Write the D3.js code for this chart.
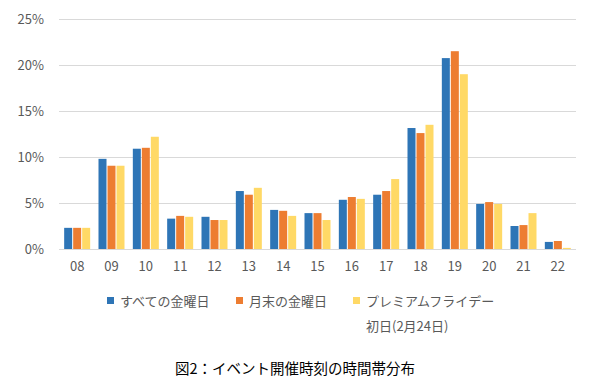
<!DOCTYPE html>
<html>
<head>
<meta charset="utf-8">
<script src="https://cdn.jsdelivr.net/npm/d3@7"></script>
<style>
  html, body { margin: 0; padding: 0; background: #fff; }
  svg { display: block; font-family: "Noto Sans CJK JP", "Noto Sans", sans-serif; }
</style>
</head>
<body>
<svg id="chart" width="591" height="382"></svg>
<script>
const categories = ["08","09","10","11","12","13","14","15","16","17","18","19","20","21","22"];
const seriesNames = ["すべての金曜日", "月末の金曜日", "プレミアムフライデー"];
const allFridays   = [2.3, 9.8, 10.9, 3.3, 3.5, 6.3, 4.25, 3.9, 5.35, 5.9, 13.15, 20.75, 4.9, 2.5, 0.77];
const monthEndFri  = [2.3, 9.05, 11.0, 3.6, 3.15, 5.9, 4.15, 3.9, 5.65, 6.3, 12.6, 21.5, 5.1, 2.6, 0.87];
const premiumFri   = [2.3, 9.05, 12.2, 3.5, 3.15, 6.65, 3.6, 3.15, 5.45, 7.6, 13.5, 19.0, 4.9, 3.9, 0.12];
const yTicks = [0, 5, 10, 15, 20, 25];
const colors = ["#2E75B6", "#ED7D31", "#FFD966"];
const legendSecondLine = "初日(2月24日)";
const title = "図2：イベント開催時刻の時間帯分布";

const seriesValues = [allFridays, monthEndFri, premiumFri];

const svg = d3.select("#chart");
const plot = { left: 60, right: 575, top: 19, bottom: 249 };

const x0 = d3.scaleBand().domain(categories).range([plot.left, plot.right]);
const x1 = d3.scaleBand().domain(d3.range(seriesNames.length)).range([0, 27]);
const y = d3.scaleLinear().domain([0, 25]).range([plot.bottom, plot.top]);

// gridlines
svg.append("g")
  .selectAll("line")
  .data(yTicks)
  .join("line")
  .attr("x1", 59).attr("x2", 576)
  .attr("y1", d => Math.round(y(d)) + 0.5)
  .attr("y2", d => Math.round(y(d)) + 0.5)
  .attr("stroke", "#d9d9d9")
  .attr("stroke-width", 1);

// y axis labels
const yAxis = d3.axisLeft(y).tickValues(yTicks).tickFormat(d => d + "%").tickSize(0).tickPadding(0);
const yg = svg.append("g").attr("transform", "translate(44,0)").call(yAxis);
yg.select(".domain").remove();
yg.selectAll("text").attr("fill", "#595959").style("font-size", "13px")
  .style("font-family", '"Noto Sans CJK JP", sans-serif');

// x axis labels
const xAxis = d3.axisBottom(x0).tickSize(0).tickPadding(0);
const xg = svg.append("g").attr("transform", "translate(0,262)").call(xAxis);
xg.select(".domain").remove();
xg.selectAll("text").attr("fill", "#595959").style("font-size", "13px")
  .style("font-family", '"Noto Sans CJK JP", sans-serif');

// bars
const groups = svg.append("g")
  .selectAll("g")
  .data(categories)
  .join("g")
  .attr("transform", c => `translate(${x0(c) + (x0.bandwidth() - 26) / 2},0)`);

groups.selectAll("rect")
  .data((c, i) => seriesValues.map((vals, s) => ({ s, v: vals[i] })))
  .join("rect")
  .attr("x", d => x1(d.s))
  .attr("width", x1.bandwidth() - 1)
  .attr("y", d => y(d.v))
  .attr("height", d => plot.bottom - y(d.v))
  .attr("fill", d => colors[d.s]);

// legend
const legendX = [107, 236, 353];
const legend = svg.append("g");
seriesNames.forEach((name, i) => {
  legend.append("rect")
    .attr("x", legendX[i]).attr("y", 297)
    .attr("width", 7).attr("height", 7)
    .attr("fill", colors[i]);
  legend.append("text")
    .attr("x", legendX[i] + 13).attr("y", 300.5)
    .attr("dominant-baseline", "central")
    .attr("fill", "#595959")
    .style("font-size", "13px")
    .text(name);
});
legend.append("text")
  .attr("x", legendX[2] + 13).attr("y", 325.5)
  .attr("dominant-baseline", "central")
  .attr("fill", "#595959")
  .style("font-size", "13px")
  .text(legendSecondLine);

// title
svg.append("text")
  .attr("x", 295).attr("y", 367)
  .attr("text-anchor", "middle")
  .attr("dominant-baseline", "central")
  .attr("fill", "#000")
  .style("font-size", "14.5px")
  .text(title);
</script>
</body>
</html>
